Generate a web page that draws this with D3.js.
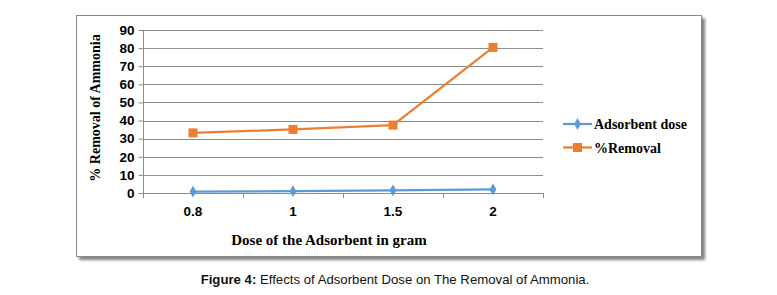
<!DOCTYPE html>
<html><head><meta charset="utf-8">
<script src="https://cdn.jsdelivr.net/npm/d3@7"></script>
<style>body{margin:0;background:#fff}svg{display:block}</style>
</head><body>
<svg id="c" width="777" height="295"></svg>
<script>
const categories = ["0.8", "1", "1.5", "2"];
const adsorbentDose = [0.8, 1, 1.5, 2];
const removal = [33.2, 35.1, 37.5, 80.4];
const yTicks = [0, 10, 20, 30, 40, 50, 60, 70, 80, 90];
const seriesNames = ["Adsorbent dose", "%Removal"];
const colors = ["#5b9bd5", "#ed7d31"];

const svg = d3.select("#c");
const defs = svg.append("defs");
const f = defs.append("filter").attr("id","sh").attr("x","-5%").attr("y","-5%").attr("width","115%").attr("height","120%");
f.append("feGaussianBlur").attr("in","SourceAlpha").attr("stdDeviation",1.5);
f.append("feOffset").attr("dx",3).attr("dy",3).attr("result","b");
f.append("feComponentTransfer").append("feFuncA").attr("type","linear").attr("slope",0.5);
const m = f.append("feMerge"); m.append("feMergeNode"); m.append("feMergeNode").attr("in","SourceGraphic");
svg.append("rect").attr("x",76.5).attr("y",15.5).attr("width",625).attr("height",241)
  .attr("fill","#fff").attr("stroke","#8a8a8a").attr("stroke-width",1).attr("filter","url(#sh)");

const L = 143, R = 543, T = 30, B = 193;
const x = d3.scaleBand().domain(categories).range([L, R]);
const y = d3.scaleLinear().domain([0, 90]).range([B, T]);

const g = svg.append("g");
g.selectAll(".grid").data(yTicks).join("line")
  .attr("x1", L).attr("x2", R)
  .attr("y1", d => Math.round(y(d)) + 0.5).attr("y2", d => Math.round(y(d)) + 0.5)
  .attr("stroke", "#8c8c8c").attr("stroke-width", 1);

const ya = g.append("g").attr("transform", `translate(${L + 0.5},0)`)
  .call(d3.axisLeft(y).tickValues(yTicks).tickSize(5).tickPadding(4));
ya.select(".domain").attr("stroke", "#8c8c8c").attr("d", `M0,${T}V${B}`);
ya.selectAll(".tick line").attr("stroke", "#8c8c8c");
ya.selectAll(".tick text").attr("font-family", "Liberation Sans, Arial, sans-serif")
  .attr("font-weight", "bold").attr("font-size", 13.5).attr("fill", "#000");

const xa = g.append("g").attr("transform", `translate(0,${Math.round(B) + 0.5})`)
  .call(d3.axisBottom(x).tickSize(0).tickPadding(13));
xa.select(".domain").remove();
xa.selectAll(".tick text").attr("font-family", "Liberation Sans, Arial, sans-serif")
  .attr("font-weight", "bold").attr("font-size", 13.5).attr("fill", "#000");
const seps = categories.map(c => x(c)).concat([R]);
g.selectAll(".sep").data(seps).join("line")
  .attr("x1", d => Math.round(d) + 0.5).attr("x2", d => Math.round(d) + 0.5)
  .attr("y1", Math.round(B)).attr("y2", Math.round(B) + 5)
  .attr("stroke", "#8c8c8c");

const cx = c => x(c) + x.bandwidth() / 2;
const data = [adsorbentDose, removal];
data.forEach((vals, i) => {
  const pts = categories.map((c, j) => [cx(c), y(vals[j])]);
  g.append("path").attr("d", d3.line()(pts)).attr("fill", "none")
    .attr("stroke", colors[i]).attr("stroke-width", 2.25);
  if (i === 0) {
    g.selectAll(".dm").data(pts).join("path")
      .attr("d", d3.symbol(d3.symbolDiamond, 40))
      .attr("transform", p => `translate(${p[0]},${p[1]})`).attr("fill", colors[i]);
  } else {
    g.selectAll(".sq").data(pts).join("rect")
      .attr("x", p => p[0] - 4.5).attr("y", p => p[1] - 4.5)
      .attr("width", 9).attr("height", 9).attr("fill", colors[i]);
  }
});

svg.append("text").attr("x", 329).attr("y", 245).attr("text-anchor", "middle")
  .attr("font-family", "Liberation Serif, Times New Roman, serif").attr("font-weight", "bold")
  .attr("font-size", 15).text("Dose of the Adsorbent in gram");
svg.append("text").attr("transform", `translate(100,108) rotate(-90)`)
  .attr("text-anchor", "middle")
  .attr("font-family", "Liberation Serif, Times New Roman, serif").attr("font-weight", "bold")
  .attr("font-size", 14).text("% Removal of Ammonia");

const lg = svg.append("g");
seriesNames.forEach((n, i) => {
  const ly = 124 + i * 23.5;
  lg.append("line").attr("x1", 563).attr("x2", 592).attr("y1", ly).attr("y2", ly)
    .attr("stroke", colors[i]).attr("stroke-width", 2.25);
  if (i === 0) lg.append("path").attr("d", d3.symbol(d3.symbolDiamond, 40)).attr("transform", `translate(577.5,${ly})`).attr("fill", colors[i]);
  else lg.append("rect").attr("x", 573).attr("y", ly - 4.5).attr("width", 9).attr("height", 9).attr("fill", colors[i]);
  lg.append("text").attr("x", 594).attr("y", ly + 5)
    .attr("font-family", "Liberation Serif, Times New Roman, serif").attr("font-weight", "bold")
    .attr("font-size", 14).text(n);
});

const cap = svg.append("text").attr("x", 395).attr("y", 284).attr("text-anchor", "middle")
  .attr("font-family", "Liberation Sans, Arial, sans-serif").attr("font-size", 13.2).attr("fill", "#111");
cap.append("tspan").attr("font-weight", "bold").text("Figure 4:");
cap.append("tspan").text(" Effects of Adsorbent Dose on The Removal of Ammonia.");
</script>
</body></html>
